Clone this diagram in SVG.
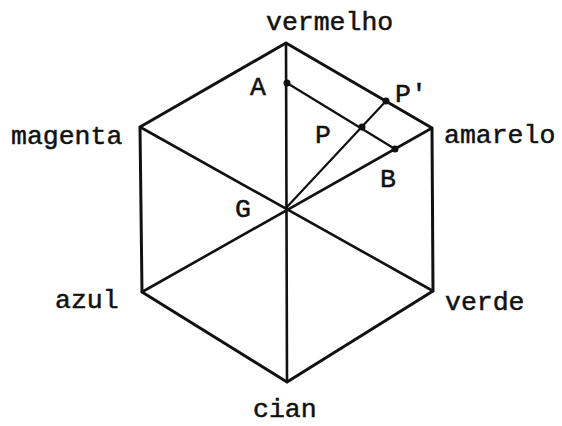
<svg xmlns="http://www.w3.org/2000/svg" width="562" height="426" viewBox="0 0 562 426">
<style>
text{font-family:"Liberation Mono","Courier New",monospace;font-size:26.5px;fill:#111;stroke:#111;stroke-width:0.5}
.edge{stroke:#111;stroke-width:3;fill:none;stroke-linejoin:round;stroke-linecap:round}
.diag{stroke:#111;stroke-width:2.6;fill:none;stroke-linecap:round}
.thin{stroke:#111;stroke-width:2.2;fill:none;stroke-linecap:round}
.dot{fill:#111}
</style>
<rect width="562" height="426" fill="#fff"/>
<g id="connectors">
<polygon class="edge" points="286,43 432,128 433,291 287,382 142,292 140,127"/>
<line class="diag" x1="286" y1="43" x2="287" y2="382"/>
<line class="diag" x1="140" y1="127" x2="433" y2="291"/>
<line class="diag" x1="142" y1="292" x2="432" y2="128"/>
<line class="thin" x1="287" y1="83" x2="395" y2="149"/>
<line class="thin" x1="286" y1="208" x2="386" y2="101"/>
</g>
<g id="vermelho"><text x="266" y="30">vermelho</text></g>
<g id="amarelo"><text x="444" y="143">amarelo</text></g>
<g id="magenta"><text x="11" y="144">magenta</text></g>
<g id="azul"><text x="55" y="308">azul</text></g>
<g id="verde"><text x="445" y="310">verde</text></g>
<g id="cian"><text x="253" y="417">cian</text></g>
<g id="A"><circle class="dot" cx="287" cy="83" r="3.5"/><text x="250" y="95">A</text></g>
<g id="P"><circle class="dot" cx="362" cy="127" r="3.5"/><text x="315" y="143">P</text></g>
<g id="Pprime"><circle class="dot" cx="386" cy="101" r="3.5"/><text x="395" y="102">P'</text></g>
<g id="B"><circle class="dot" cx="395" cy="149" r="3.5"/><text x="380" y="187">B</text></g>
<g id="G"><text x="235" y="217">G</text></g>
</svg>
